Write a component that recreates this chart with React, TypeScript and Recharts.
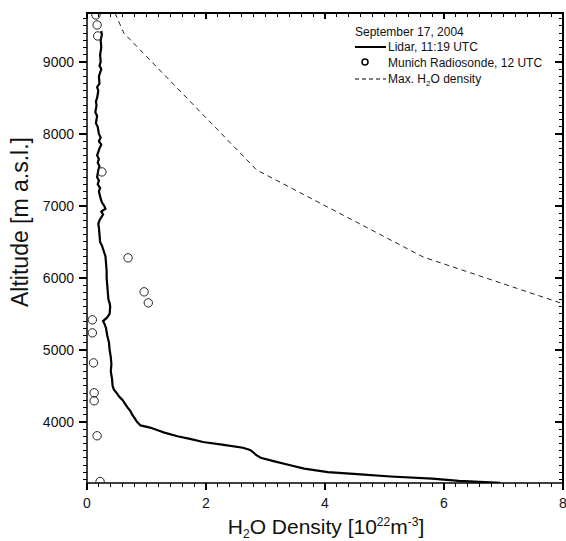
import React from 'react';
import { ComposedChart, Scatter, XAxis, YAxis, Customized } from 'recharts';

const FONT = '"Liberation Sans", Arial, Helvetica, sans-serif';

// Lidar, 11:19 UTC profile (altitude in m a.s.l., density in 1e22 m^-3)
const lidarAlt = [
  9430, 9380, 9300, 9200, 9100, 9000, 8950, 8900, 8800, 8700, 8650, 8600, 8500, 8450, 8400,
  8300, 8250, 8150, 8100, 8000, 7950, 7900, 7850, 7800, 7750, 7700, 7650, 7600, 7550, 7500,
  7400, 7350, 7300, 7250, 7200, 7100, 7050, 7000, 6960, 6920, 6880, 6800, 6750, 6700, 6600,
  6500, 6450, 6400, 6300, 6200, 6100, 6000, 5900, 5800, 5700, 5650, 5600, 5500, 5450, 5400,
  5350, 5300, 5200, 5100, 5000, 4900, 4800, 4700, 4600, 4500, 4450, 4400, 4350, 4300, 4250,
  4200, 4150, 4100, 4050, 4000, 3950, 3920, 3880, 3850, 3800, 3760, 3720, 3680, 3640, 3610,
  3580, 3540, 3500, 3450, 3400, 3350, 3300, 3270, 3240, 3210, 3180, 3165, 3153,
];
const lidarDensity = [
  0.24, 0.25, 0.23, 0.24, 0.22, 0.23, 0.21, 0.24, 0.2, 0.21, 0.17, 0.19, 0.17, 0.15, 0.16,
  0.14, 0.17, 0.15, 0.18, 0.2, 0.23, 0.2, 0.24, 0.21, 0.19, 0.17, 0.2, 0.18, 0.21, 0.19,
  0.17, 0.2, 0.18, 0.22, 0.2, 0.23, 0.25, 0.29, 0.31, 0.24, 0.27, 0.21, 0.19, 0.2, 0.21,
  0.22, 0.25, 0.27, 0.31, 0.32, 0.33, 0.33, 0.34, 0.35, 0.36, 0.38, 0.39, 0.38, 0.34, 0.27,
  0.3, 0.32, 0.34, 0.37, 0.38, 0.4, 0.41, 0.4, 0.42, 0.43, 0.45, 0.5, 0.54, 0.6, 0.64,
  0.68, 0.73, 0.76, 0.8, 0.84, 0.9, 1.06, 1.2, 1.3, 1.52, 1.75, 1.95, 2.3, 2.62, 2.74,
  2.79, 2.84, 2.92, 3.15, 3.4, 3.65, 4.05, 4.6, 5.1, 5.8, 6.25, 6.6, 6.95,
];

// Munich Radiosonde, 12 UTC
const sondeAlt = [9653, 9514, 9361, 7472, 6278, 5806, 5653, 5417, 5236, 4819, 4403, 4292, 3806, 3170];
const sondeDensity = [0.15, 0.17, 0.18, 0.25, 0.69, 0.96, 1.03, 0.09, 0.09, 0.11, 0.12, 0.12, 0.17, 0.22];

// Max. H2O density
const maxAlt = [9680, 9400, 7500, 6290, 5640];
const maxDensity = [0.47, 0.62, 2.85, 5.65, 8.0];

// Axis ticks
const xMajorTicks = [0, 2, 4, 6, 8];
const yMajorTicks = [4000, 5000, 6000, 7000, 8000, 9000];
const xAllTicks = Array.from({ length: 41 }, (_, i) => Math.round(i * 2) / 10);
const yAllTicks = Array.from({ length: 65 }, (_, i) => 3200 + i * 100);

const X_DOMAIN: [number, number] = [0, 8];
const Y_DOMAIN: [number, number] = [3150, 9680];

// chart geometry (drives both the chart margins/axis sizes and the tick-mark overlay)
const W = 566;
const H = 541;
const M_TOP = 13;
const M_RIGHT = 3;
const Y_AXIS_W = 87;
const X_AXIS_H = 58;
const PLOT_L = Y_AXIS_W;
const PLOT_R = W - M_RIGHT;
const PLOT_T = M_TOP;
const PLOT_B = H - X_AXIS_H;

const lidarData = lidarAlt.map((a, i) => ({ x: lidarDensity[i], alt: a }));
const sondeData = sondeAlt.map((a, i) => ({ x: sondeDensity[i], alt: a }));
const maxData = maxAlt.map((a, i) => ({ x: maxDensity[i], alt: a }));

const isMajorX = (v: number) => xMajorTicks.some((m) => Math.abs(m - v) < 1e-6);
const isMajorY = (v: number) => yMajorTicks.some((m) => Math.abs(m - v) < 1e-6);

const tickX = (v: number) => PLOT_L + ((v - X_DOMAIN[0]) / (X_DOMAIN[1] - X_DOMAIN[0])) * (PLOT_R - PLOT_L);
const tickY = (v: number) => PLOT_B - ((v - Y_DOMAIN[0]) / (Y_DOMAIN[1] - Y_DOMAIN[0])) * (PLOT_B - PLOT_T);

const AXIS_LINE = { stroke: '#000', strokeWidth: 1.5 };

const BottomLabel = (props: any) => {
  const { x, y, payload } = props;
  return (
    <text x={x} y={y + 25} textAnchor="middle" fontSize={14} fill="#111" fontFamily={FONT}>
      {payload.value}
    </text>
  );
};
const LeftLabel = (props: any) => {
  const { x, y, payload } = props;
  return (
    <text x={x - 13} y={y + 5} textAnchor="end" fontSize={14} fill="#111" fontFamily={FONT}>
      {payload.value}
    </text>
  );
};

const NoShape = () => <g />;
const OpenCircle = (props: any) => (
  <circle cx={props.cx} cy={props.cy} r={4.2} fill="none" stroke="#222" strokeWidth={1} />
);

const Decorations = () => (
  <g fontFamily={FONT} fill="#111">
    <text x={0} y={0} fontSize={23} textAnchor="middle" transform="translate(28,222) rotate(-90)">
      Altitude [m a.s.l.]
    </text>
    <text x={326} y={534} fontSize={21} textAnchor="middle">
      H<tspan fontSize={12} dy={4}>2</tspan>
      <tspan dy={-4}>O Density [10</tspan>
      <tspan fontSize={12} dy={-8}>22</tspan>
      <tspan dy={8}>m</tspan>
      <tspan fontSize={12} dy={-8}>-3</tspan>
      <tspan dy={8}>]</tspan>
    </text>
    <g fontSize={12}>
      <text x={355} y={36}>September 17, 2004</text>
      <line x1={355} x2={386} y1={47} y2={47} stroke="#000" strokeWidth={2} />
      <text x={388} y={51}>Lidar, 11:19 UTC</text>
      <circle cx={365} cy={62} r={3} fill="none" stroke="#000" strokeWidth={1.5} />
      <text x={388} y={67}>Munich Radiosonde, 12 UTC</text>
      <line x1={355} x2={386} y1={79} y2={79} stroke="#000" strokeWidth={1} strokeDasharray="4 3" />
      <text x={388} y={83}>
        Max. H<tspan fontSize={8} dy={3}>2</tspan>
        <tspan dy={-3}>O density</tspan>
      </text>
    </g>
  </g>
);

const bar = (left: number, top: number, width: number, height: number, key: string) => (
  <div
    key={key}
    style={{ position: 'absolute', left, top, width, height, background: '#000', pointerEvents: 'none' }}
  />
);

function TickOverlay() {
  const marks: React.ReactNode[] = [];
  xAllTicks.forEach((v) => {
    const major = isMajorX(v);
    const w = major ? 1.5 : 1;
    const x = tickX(v) - w / 2;
    marks.push(bar(x, PLOT_B, w, major ? 7 : 4, 'xb' + v));
    marks.push(bar(x, PLOT_T, w, major ? 6 : 4, 'xt' + v));
  });
  yAllTicks.forEach((v) => {
    const major = isMajorY(v);
    const h = major ? 1.5 : 1;
    const y = tickY(v) - h / 2;
    const len = major ? 8 : 4;
    marks.push(bar(PLOT_L - len, y, len, h, 'yl' + v));
    marks.push(bar(PLOT_R - len, y, len, h, 'yr' + v));
  });
  // frame: top and right edges
  marks.push(bar(PLOT_L - 0.75, PLOT_T - 0.75, PLOT_R - PLOT_L + 1.5, 1.5, 'frameTop'));
  marks.push(bar(PLOT_R - 0.75, PLOT_T - 0.75, 1.5, PLOT_B - PLOT_T + 1.5, 'frameRight'));
  return <>{marks}</>;
}

export default function App() {
  return (
    <div style={{ position: 'absolute', left: 0, top: 0, width: W, height: H, background: '#fff' }}>
      <ComposedChart width={W} height={H} margin={{ top: M_TOP, right: M_RIGHT, bottom: 0, left: 0 }}>
        <XAxis
          xAxisId="b"
          type="number"
          dataKey="x"
          domain={X_DOMAIN}
          allowDataOverflow
          ticks={xMajorTicks}
          interval={0}
          tick={<BottomLabel />}
          tickLine={false}
          tickSize={0}
          tickMargin={0}
          axisLine={AXIS_LINE}
          height={X_AXIS_H}
        />
        <YAxis
          yAxisId="l"
          type="number"
          dataKey="alt"
          domain={Y_DOMAIN}
          allowDataOverflow
          ticks={yMajorTicks}
          interval={0}
          tick={<LeftLabel />}
          tickLine={false}
          tickSize={0}
          tickMargin={0}
          axisLine={AXIS_LINE}
          width={Y_AXIS_W}
        />
        <Scatter
          name="Max. H2O density"
          data={maxData}
          xAxisId="b"
          yAxisId="l"
          shape={<NoShape />}
          line={{ stroke: '#222', strokeWidth: 1, strokeDasharray: '5 4' }}
          lineType="joint"
          isAnimationActive={false}
        />
        <Scatter
          name="Lidar, 11:19 UTC"
          data={lidarData}
          xAxisId="b"
          yAxisId="l"
          shape={<NoShape />}
          line={{ stroke: '#000', strokeWidth: 2.2 }}
          lineType="joint"
          isAnimationActive={false}
        />
        <Scatter
          name="Munich Radiosonde, 12 UTC"
          data={sondeData}
          xAxisId="b"
          yAxisId="l"
          shape={<OpenCircle />}
          isAnimationActive={false}
        />
        <Customized component={<Decorations />} />
      </ComposedChart>
      <TickOverlay />
    </div>
  );
}
